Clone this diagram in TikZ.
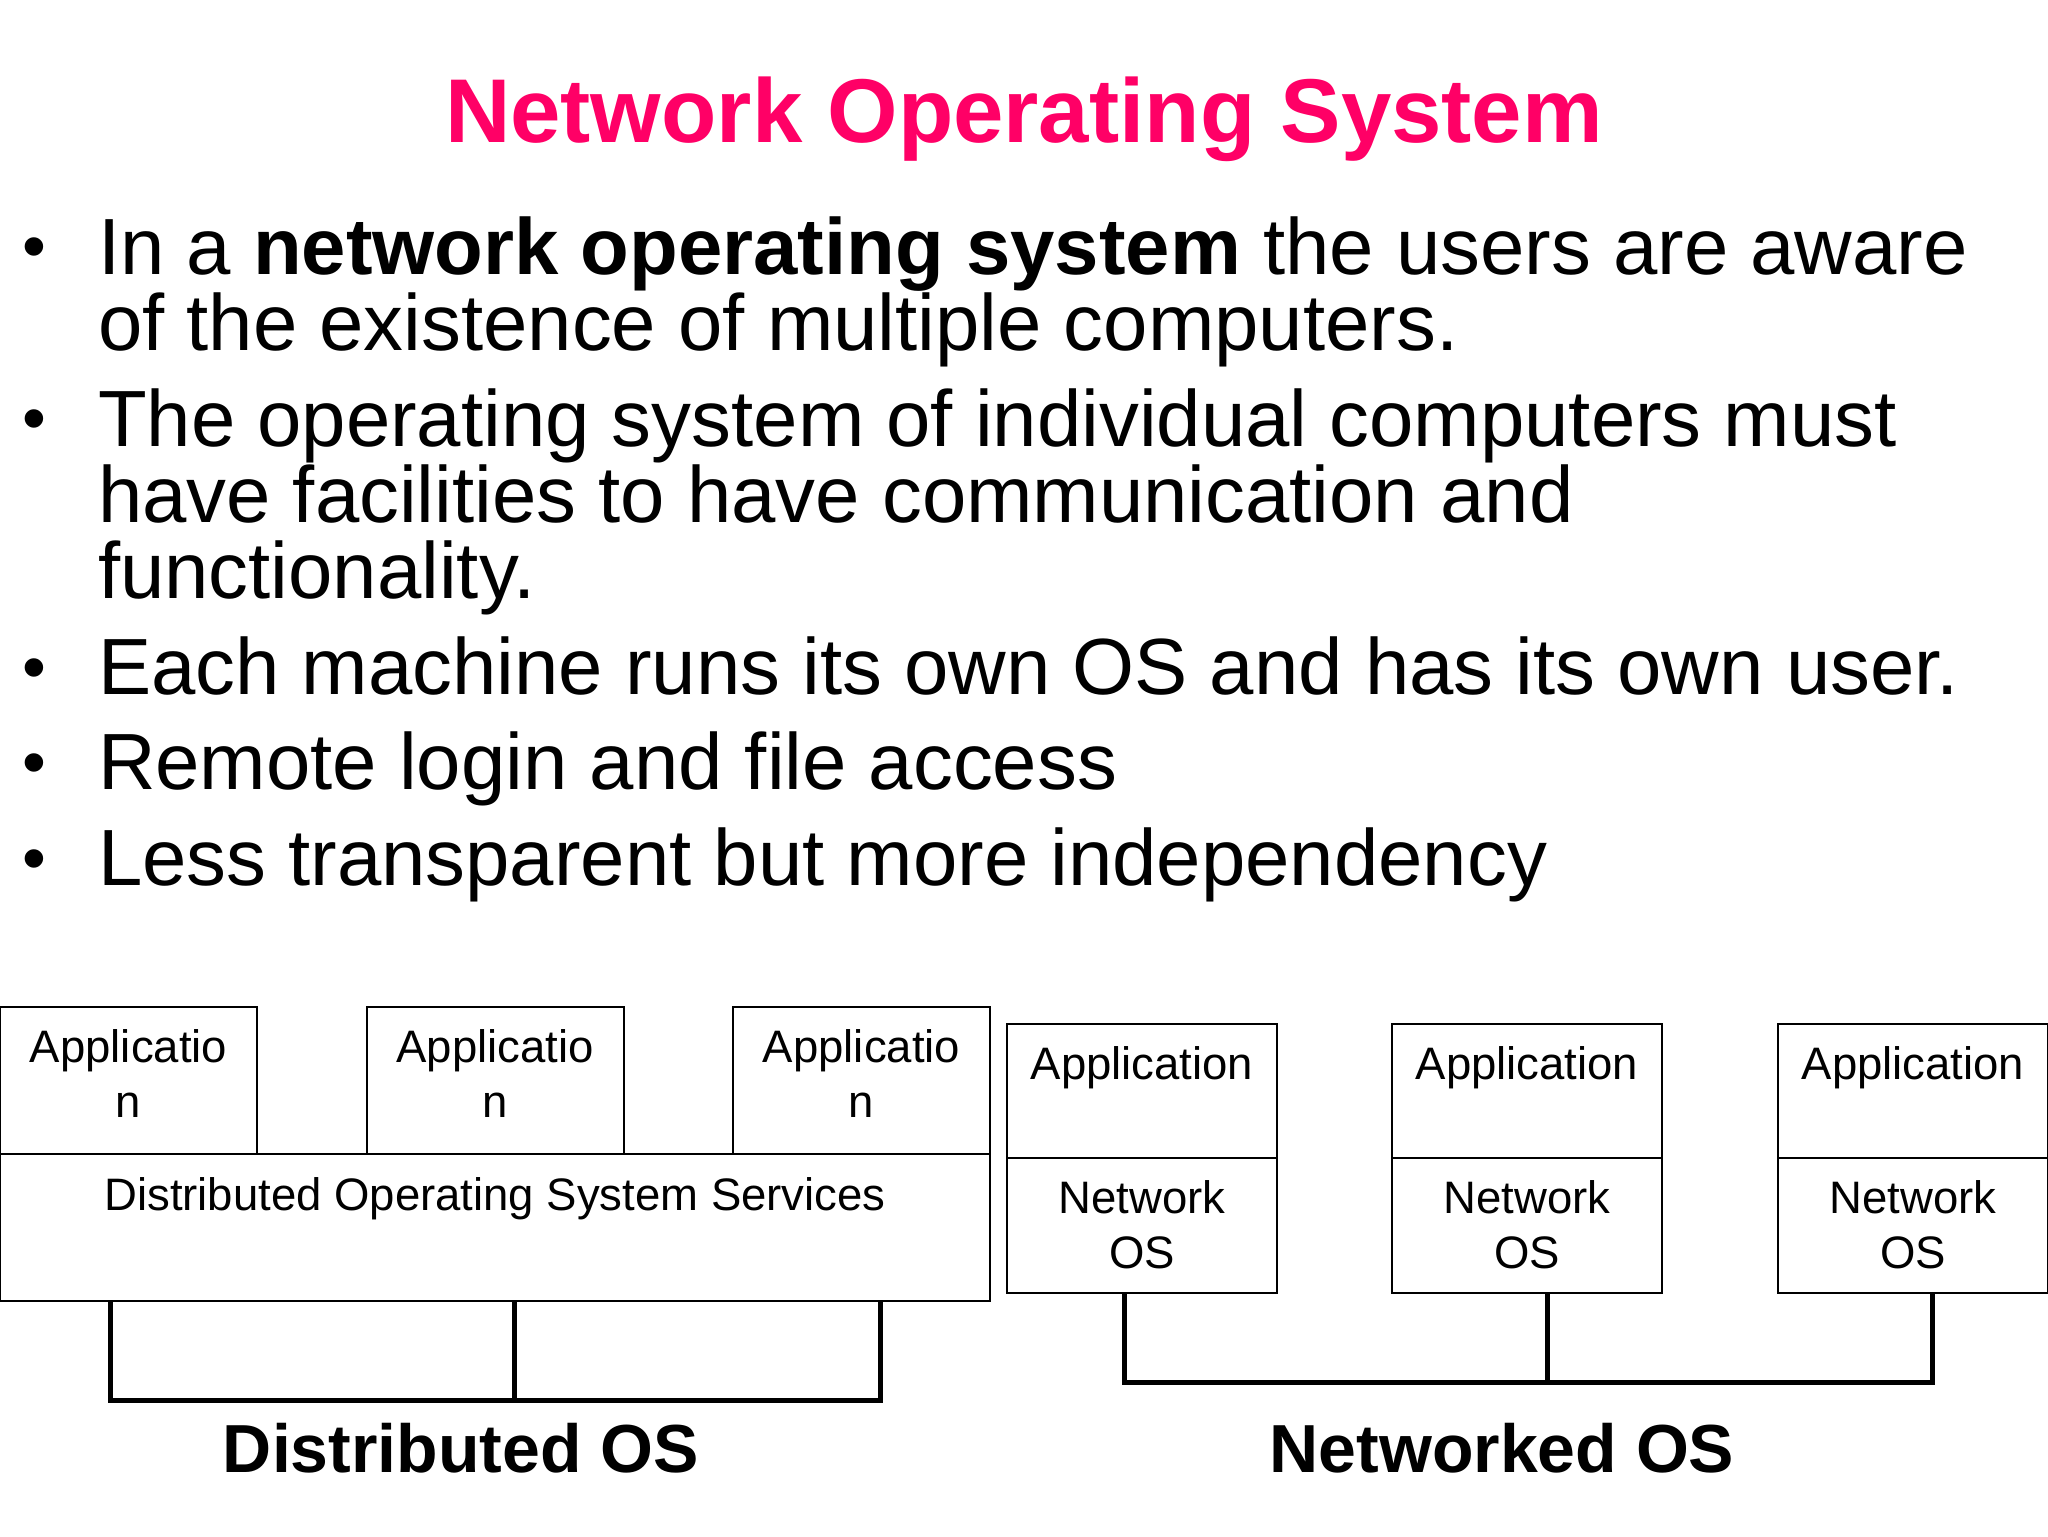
\documentclass[tikz,border=0pt]{standalone}
\usepackage{fontspec}
\setmainfont{Liberation Sans}
\definecolor{titlepink}{RGB}{255,0,102}
\tikzset{x=0.5pt,y=-0.5pt,
  txt/.style={anchor=base west,inner sep=0pt,outer sep=0pt,font=\fontsize{39.86}{40}\selectfont},
  bul/.style={anchor=base west,inner sep=0pt,outer sep=0pt,font=\fontsize{34}{34}\selectfont},
  boxlabel/.style={anchor=base,inner sep=0pt,outer sep=0pt,font=\fontsize{22.75}{23}\selectfont},
  captext/.style={anchor=base,inner sep=0pt,outer sep=0pt,font=\fontsize{34}{34}\selectfont\bfseries},
  box/.style={draw=black,line width=1pt,fill=white,anchor=north west,inner sep=0pt,outer sep=0pt},
  wire/.style={draw=black,line width=2.5pt}}
\begin{document}
\begin{tikzpicture}
\useasboundingbox (0,0) rectangle (2048,1536);
\node[anchor=base,inner sep=0pt,text=titlepink,font=\fontsize{45.3}{45}\selectfont\bfseries] (title) at (1024,142.5) {Network Operating System};
\node[bul] (b1) at (22,269) {•};
\node[txt] (l1) at (98,274) {In a \textbf{network operating system} the users are aware};
\node[txt] (l1b) at (98,350) {of the existence of multiple computers.};
\node[bul] (b2) at (22,441) {•};
\node[txt] (l2) at (98,446) {The operating system of individual computers must};
\node[txt] (l2b) at (98,522) {have facilities to have communication and};
\node[txt] (l2c) at (98,598) {functionality.};
\node[bul] (b3) at (22,690) {•};
\node[txt] (l3) at (98,694) {Each machine runs its own OS and has its own user.};
\node[bul] (b4) at (22,785) {•};
\node[txt] (l4) at (98,789.5) {Remote login and file access};
\node[bul] (b5) at (22,881) {•};
\node[txt] (l5) at (98,885) {Less transparent but more independency};
% distributed
\foreach \n/\x in {a/0,b/366.5,c/733}{
  \node[box,minimum width=128.5pt,minimum height=73.5pt] (d\n) at (\x,1007) {};
  \node[boxlabel] (d\n t) at (\x+128.5,1062) {Applicatio};
  \node[boxlabel] (d\n u) at (\x+128.5,1117) {n};
}
\node[box,minimum width=495pt,minimum height=73.5pt] (svc) at (0,1154) {};
\node[boxlabel] (svct) at (495,1210.5) {Distributed Operating System Services};
\coordinate (w1) at (110,1400);
\coordinate (w2) at (514,1400);
\coordinate (w3) at (880,1400);
\draw[wire] (110,1301) -- (w1) -- (w2) -- (w3) -- (880,1301);
\draw[wire] (514,1301) -- (w2);
\node[captext] (dc) at (461,1472) {Distributed OS};
% networked
\foreach \n/\x in {a/1007,b/1392,c/1778}{
  \node[box,minimum width=135pt,minimum height=67pt] (n\n) at (\x,1024) {};
  \node[box,minimum width=135pt,minimum height=67.5pt] (m\n) at (\x,1158) {};
  \node[boxlabel] (n\n t) at (\x+135,1079) {Application};
  \node[boxlabel] (m\n t) at (\x+135,1213) {Network};
  \node[boxlabel] (m\n u) at (\x+135,1268) {OS};
}
\coordinate (v1) at (1124,1382);
\coordinate (v2) at (1547,1382);
\coordinate (v3) at (1932,1382);
\draw[wire] (1124,1293) -- (v1) -- (v2) -- (v3) -- (1932,1293);
\draw[wire] (1547,1293) -- (v2);
\node[captext] (nc) at (1502,1472) {Networked OS};
\end{tikzpicture}
\end{document}
